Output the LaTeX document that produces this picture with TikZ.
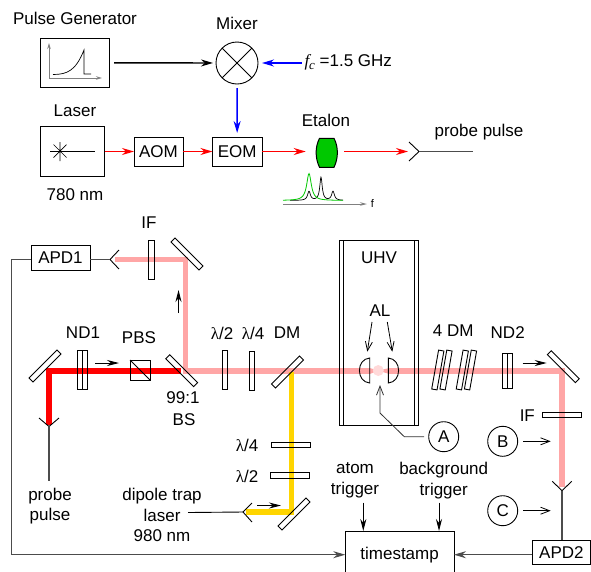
\documentclass[tikz,border=0pt]{standalone}
\usepackage{fontspec}
\setmainfont{Liberation Sans}
\newfontfamily\serifgreek{Liberation Serif}
\usetikzlibrary{arrows.meta}
\newcommand{\lam}{{\serifgreek λ}}
\definecolor{beampink}{HTML}{FFA6A6}
\definecolor{beamyellow}{HTML}{FFD500}
\definecolor{etalongreen}{HTML}{00C800}
\tikzset{
	every node/.style={font=\fontsize{17}{20.5}\selectfont,align=center,inner sep=0pt,outer sep=0pt},
	box/.style={draw,line width=0.9pt},
	plate/.style={draw,line width=0.9pt,minimum width=5.4pt,minimum height=39.5pt},
	mirror/.style={draw,line width=0.9pt,minimum width=39.5pt,minimum height=5.6pt},
	tag/.style={draw,circle,line width=0.9pt,minimum size=30pt},
	beam/.style={line width=5.8pt},
	wire/.style={black!70,line width=1.1pt},
	flow/.style={->,line width=1.4pt},
	nudge/.style={-{Stealth[length=12pt,width=6pt]},line width=0.9pt},
	look/.style={-{Straight Barb[length=9pt,width=7pt]},line width=0.8pt},
	fork/.style={line width=0.9pt}
}
\begin{document}
\begin{tikzpicture}[x=1pt,y=-1pt,>={Stealth[length=12pt,width=7pt]}]
	\path[use as bounding box,clip] (0,0) rectangle (591,571);

	% Pulse generator and mixer
	\node at (75,18) {Pulse Generator};
	\node[box,minimum width=69pt,minimum height=49.5pt] (pulsegen) at (75,62.8) {};
	\draw[gray,line width=1pt,<->,>={Stealth[length=6pt,width=3.5pt]}] (49,43) -- (49,78) -- (102,78);
	\draw[line width=0.7pt] (53,74.5) .. controls (68,74.5) and (76,70) .. (84,50) -- (84,74) -- (91,74);
	\node at (237,23) {Mixer};
	\node[tag,minimum size=42pt] (mixer) at (237,63) {};
	\draw[line width=0.8pt] (mixer.north west) -- (mixer.south east);
	\draw[line width=0.8pt] (mixer.north east) -- (mixer.south west);
	\draw[flow,shorten <=4.5pt,shorten >=3pt] (pulsegen) -- (mixer);
	\node[anchor=west] (fc) at (304.5,62) {{\serifgreek\itshape f\raisebox{-3.5pt}{\fontsize{13}{13}\selectfont c}} =1.5 GHz};
	\draw[flow,blue,shorten <=3pt,shorten >=4pt] (fc.west |- mixer) -- (mixer);

	% Laser line
	\node at (75,111) {Laser};
	\node[box,minimum width=64pt,minimum height=50pt] (laser) at (72.5,151) {};
	\node at (75,195) {780 nm};
	\draw[line width=0.7pt] (50,151) -- (95,151);
	\draw[line width=0.7pt] (60,142) -- (60,161) (53.5,144.5) -- (66.5,157.5) (53.5,157.5) -- (66.5,144.5);
	\node[box,minimum width=49pt,minimum height=29pt] (aom) at (158.5,151.5) {AOM};
	\node[box,minimum width=49.5pt,minimum height=29pt] (eom) at (237.2,151.5) {EOM};
	\draw[flow,red] (laser.east |- aom) -- (aom);
	\draw[flow,red] (aom) -- (eom);
	\draw[flow,blue,shorten <=4pt,shorten >=4pt] (mixer) -- (eom);

	% Etalon
	\node at (326,120) {Etalon};
	\coordinate (etalon) at (326.7,151.5);
	\draw[fill=etalongreen,line width=1pt] (319.5,138.3) -- (334,138.3) .. controls (338.5,147) and (338.5,158) .. (334,167.3)
		-- (319.5,167.3) .. controls (315,158) and (315,147) .. (319.5,138.3) -- cycle;
	\draw[flow,red,shorten >=21pt] (eom) -- (etalon);
	\coordinate (probeout) at (419,151.5);
	\draw[flow,red,shorten <=17.5pt,shorten >=11pt] (etalon) -- (probeout);
	\draw[fork] (409,142) -- (probeout) -- (409,161);
	\draw[wire] (probeout) -- (473,151.5);
	\node at (479,132) {probe pulse};

	% Etalon spectrum
	\draw[gray,line width=1pt,->,>={Stealth[length=7pt,width=3.5pt]}] (283,204) -- (367,204);
	\node[font=\fontsize{11}{11}\selectfont] at (372.5,204) {f};
	\draw[line width=0.7pt] plot[domain=290:343,samples=150] (\x,{200.5-9/(1+((\x-309)/1.7)^2)-23/(1+((\x-321)/1.5)^2)-9/(1+((\x-333)/1.7)^2)});
	\draw[etalongreen,line width=0.8pt] plot[domain=283:343,samples=100] (\x,{200.5-27/(1+((\x-309)/2.8)^2)});

	% Beams
	\draw[beampink,beam] (115,259.5) -- (185.5,259.5) -- (185.5,371) -- (370,371);
	\draw[beampink,beam] (389,371) -- (562,371) -- (562,487);
	\fill[beampink] (370,368.1) -- (378.3,370.6) -- (370,373.9) -- cycle;
	\fill[beampink] (389,368.1) -- (378.3,370.6) -- (389,373.9) -- cycle;
	\fill[red!15] (378.3,370.5) circle (5.5);
	\draw[red,line width=6.4pt] (49,425) -- (49,371) -- (181,371);
	\draw[beamyellow,line width=5.2pt] (291.7,372) -- (291.7,512) -- (246,512);

	% Probe arm
	\node[mirror,rotate=45] (mirrorprobe) at (45,366) {};
	\node[plate,minimum width=4.7pt] (ndonea) at (80,370) {};
	\node[plate,minimum width=5.3pt] (ndoneb) at (85,370) {};
	\node at (83,333) {ND1};
	\draw[nudge] (95,363) -- (119,363);
	\node[box,minimum size=20pt] (pbs) at (140,370) {};
	\draw[line width=0.8pt] (pbs.north west) -- (pbs.south east);
	\node at (139,338) {PBS};
	\node[mirror,rotate=-45] (bs) at (181.7,370.7) {};
	\node at (183,398) {99:1};
	\node at (184,420) {BS};
	\coordinate (probefork) at (49,426.5);
	\draw[fork] (39,418) -- (probefork) -- (59,418);
	\draw[wire] (probefork) -- (49,481);
	\node at (50,506) {probe\\pulse};

	% APD1 arm
	\node[box,minimum width=59pt,minimum height=25pt] (apdone) at (60.5,257.5) {APD1};
	\coordinate (apdonefork) at (110,259.5);
	\draw[fork] (119,250) -- (apdonefork) -- (119,269);
	\draw[wire] (apdone.east |- apdonefork) -- (apdonefork);
	\node[plate] (ifone) at (151.3,259.8) {};
	\node at (149,223) {IF};
	\node[mirror,rotate=-45] (mirrortop) at (187,254) {};
	\draw[nudge] (178.5,313) -- (178.5,290);

	% Waveplates and DM
	\node[plate] (halfa) at (225,370) {};
	\node at (222,333) {\lam/2};
	\node[plate] (quartera) at (252,371) {};
	\node at (253,333) {\lam/4};
	\node[mirror,rotate=45] (dm) at (287.5,372) {};
	\node at (287,333) {DM};

	% Dipole trap arm
	\node[box,minimum width=39.7pt,minimum height=5.4pt] (quarterb) at (291,445) {};
	\node at (247,445) {\lam/4};
	\node[box,minimum width=39.5pt,minimum height=5.4pt] (halfb) at (289.7,475.5) {};
	\node at (247,476) {\lam/2};
	\node[mirror,rotate=45] (mirrordipole) at (294,514) {};
	\coordinate (dipolefork) at (243,512);
	\draw[fork] (252,503) -- (dipolefork) -- (252,522);
	\node (dipole) at (162,515) {dipole trap\\laser\\980 nm};
	\draw[line width=0.9pt] (188,512.5) -- (dipolefork);
	\draw[nudge] (257,505.5) -- (281,505.5);

	% UHV chamber
	\draw[line width=0.9pt] (339.7,240.7) rectangle (418.4,425);
	\draw[line width=0.9pt] (343.9,240.7) -- (343.9,425) (414.6,240.7) -- (414.6,425);
	\node at (379,258) {UHV};
	\node at (380,311) {AL};
	\draw[look] (372,322) -- (367.3,351.7);
	\draw[look] (387.3,322) -- (392.3,351.7);
	\draw[line width=0.9pt] (369.7,358) .. controls (356,359) and (356,382) .. (369.7,383) -- cycle;
	\draw[line width=0.9pt] (388.3,358) .. controls (402,359) and (402,382) .. (388.3,383) -- cycle;

	% Tags
	\node[tag] (taga) at (443.7,436.7) {A};
	\node[tag] (tagb) at (502.7,441.3) {B};
	\node[tag] (tagc) at (502.7,510.7) {C};
	\draw[look,black!80] (taga) ++(-19.7,0) -- (404.3,436.7) -- (380,413) -- (380,385);
	\draw[look,shorten <=5.6pt] (tagb.east) -- (550.7,441.3);
	\draw[look,shorten <=5.6pt] (tagc.east) -- (550.7,510.7);

	% Output arm
	\node[plate,rotate=-10] (dmone) at (437.8,370) {};
	\node[plate,rotate=-10] (dmtwo) at (446,370) {};
	\node[plate,rotate=-10] (dmthree) at (462.3,370) {};
	\node[plate,rotate=-10] (dmfour) at (470.5,370) {};
	\node at (453.3,331) {4 DM};
	\node[plate,minimum height=34.7pt,minimum width=5pt] (ndtwoa) at (504.8,370.7) {};
	\node[plate,minimum height=34.7pt,minimum width=5.4pt] (ndtwob) at (510,370.7) {};
	\node at (507.7,333) {ND2};
	\draw[nudge] (522.7,363) -- (546.7,363);
	\node[mirror,rotate=-45] (mirrorright) at (563.3,366.7) {};
	\node[box,minimum width=39.4pt,minimum height=5.4pt] (iftwo) at (562,414.7) {};
	\node at (527.3,415.7) {IF};
	\coordinate (apdtwofork) at (562,490.7);
	\draw[fork] (552.3,481.3) -- (apdtwofork) -- (571.7,481.3);

	% Detection
	\node[box,minimum width=58.2pt,minimum height=24.4pt] (apdtwo) at (561.4,552.5) {APD2};
	\draw[wire] (apdtwofork) -- (apdtwo.north -| apdtwofork);
	\node[box,minimum width=108.7pt,minimum height=47.4pt] (timestamp) at (399.6,555) {timestamp};
	\node (atom) at (355,480.5) {atom\\trigger};
	\node (background) at (443.7,480.5) {background\\trigger};
	\draw[nudge] (363.3,502.7) -- (363.3,531);
	\draw[nudge] (439,502.7) -- (439,531);
	\draw[wire,->] (apdone.west |- apdonefork) -- (11.5,259.5) -- (11.5,554.7) -- (timestamp.west |- 0,554.7);
	\draw[wire,->] (apdtwo.west |- 0,554.7) -- (timestamp.east |- 0,554.7);
\end{tikzpicture}
\end{document}
